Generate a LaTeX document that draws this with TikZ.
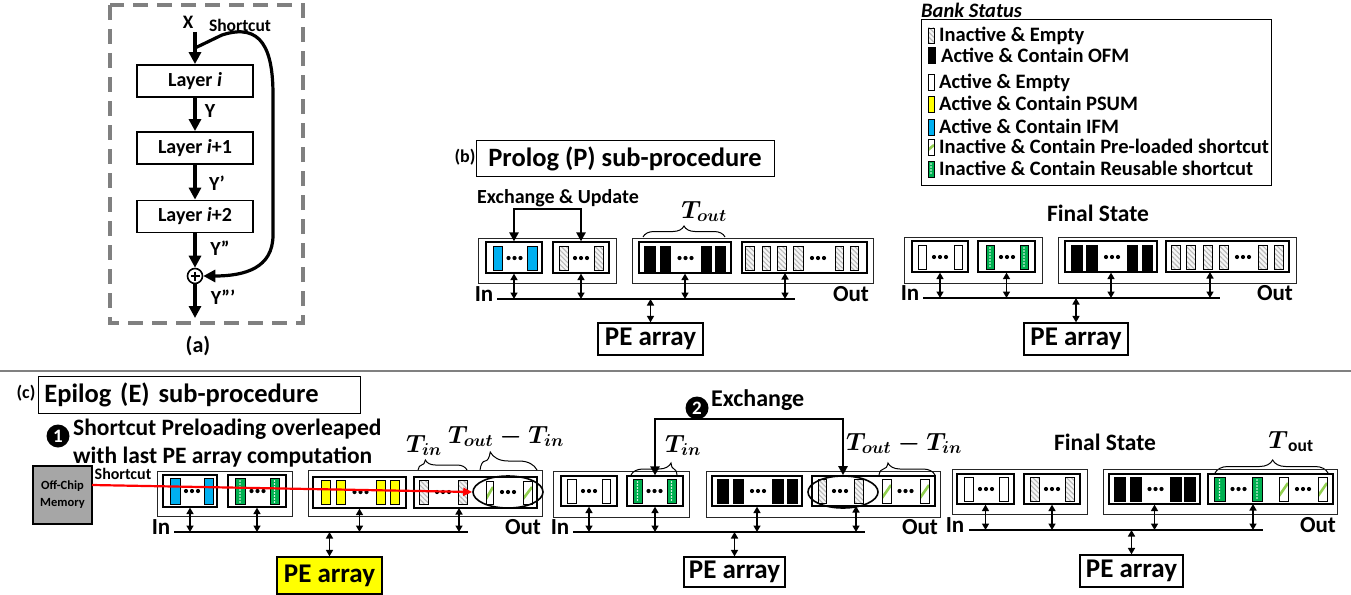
\documentclass[tikz,border=0pt]{standalone}
\usepackage{amsmath}
\usepackage{fontspec}
\setmainfont{Carlito}
\usetikzlibrary{arrows.meta,decorations.pathreplacing,patterns.meta,shapes.geometric}
\newcommand\fz[1]{\fontsize{#1}{#1}\selectfont}
\definecolor{ifm}{RGB}{0,176,240}
\definecolor{psum}{RGB}{255,255,0}
\definecolor{reu}{RGB}{0,176,80}
\definecolor{pre}{RGB}{146,208,80}
\definecolor{mem}{RGB}{166,166,166}
\newcommand\bkfill[5]{\filldraw[fill=#1,draw=black,line width=0.9pt] (#2,#3) rectangle (#4,#5);}
\newcommand\bkhatch[4]{\fill[gray!8] (#1,#2) rectangle (#3,#4);
 \fill[pattern={Lines[angle=-45,distance=3.4pt,line width=1.1pt]},pattern color=gray!55] (#1,#2) rectangle (#3,#4);
 \draw[line width=0.9pt] (#1,#2) rectangle (#3,#4);}
\newcommand\bkreu[4]{\filldraw[fill=reu,draw=black,line width=0.9pt] (#1,#2) rectangle (#3,#4);
 \pgfmathsetmacro\xm{(#1+#3)/2}\pgfmathsetmacro\ya{#2+3}\pgfmathsetmacro\yb{#2+6}\pgfmathsetmacro\yc{#4-2}
 \foreach \yy in {\ya,\yb,...,\yc}{\fill[white] (\xm,\yy) circle (0.8pt);}}
\newcommand\bkpre[4]{\fill[white] (#1,#2) rectangle (#3,#4);
 \begin{scope}\clip (#1,#2) rectangle (#3,#4);
 \draw[pre,line width=2.6pt] (#1,{#4-5}) -- (#3,{#2+6});
 \end{scope}
 \draw[line width=0.9pt] (#1,#2) rectangle (#3,#4);}
\newcommand\dts[2]{\foreach \dd in {-6,0,6}{\fill ({#1+\dd},#2) circle (2.1pt);}}
\newcommand\ob[4]{\draw[draw=black!85,line width=1pt] (#1,#2) rectangle (#3,#4);}
\newcommand\ib[5]{\node[draw,line width=1.2pt,inner sep=0pt,minimum width={#4-#2},minimum height={#5-#3}] (#1) at ({(#2+#4)/2},{(#3+#5)/2}) {};}
\begin{document}
\begin{tikzpicture}[x=1pt,y=-1pt,font=\bfseries,
 tx/.style={inner sep=0pt,font=\bfseries\fz{#1},text height=0.64*#1pt,text depth=0pt},
 bi/.style={line width=1.5pt,{Triangle[width=7pt,length=6.5pt]}-{Triangle[width=7pt,length=6.5pt]}},
 bus/.style={line width=2.8pt},
 xarr/.style={line width=2.4pt,{Triangle[width=9pt,length=9pt]}-{Triangle[width=9pt,length=9pt]}},
 brc/.style n args={2}{decorate,decoration={brace,amplitude=#1,aspect=#2},line width=1pt},
 pe/.style={draw,line width=1.2pt,inner sep=0pt,font=\bfseries\fz{27}},
 thk/.style={line width=3.2pt,-{Triangle[width=12pt,length=12pt]}},
 layer/.style={draw,line width=1.8pt,minimum width=116pt,minimum height=32pt,inner sep=0pt,font=\bfseries\fz{20}},
 ttl/.style={draw,line width=0.8pt,inner sep=0pt,font=\bfseries\fz{26.5}},
 num/.style={circle,fill=black,text=white,inner sep=0pt,minimum size=23pt,font=\bfseries\fz{19}}]
\useasboundingbox (0,0) rectangle (1351,594);
% ---------------- (a)
\draw[gray,line width=3.5pt,dash pattern=on 15pt off 9pt] (110,5) rectangle (303,323);
\node[tx=19] (xlab) at (188,22) {X};
\coordinate (xin) at (195,32);
\node[layer] (L1) at (195,81) {Layer \textit{i}};
\node[layer] (L2) at (195,148) {Layer \textit{i}+1};
\node[layer] (L3) at (195,216.5) {Layer \textit{i}+2};
\node[draw,circle,line width=1.6pt,minimum size=15pt,inner sep=0pt] (add) at (195,276) {};
\draw[line width=1.2pt] (190.5,276) -- (199.5,276) (195,271.5) -- (195,280.5);
\coordinate (yout) at (195,318);
\coordinate (sc0) at (195,48);
\draw[thk] (xin) -- (L1.north);
\draw[thk] (L1.south) -- (L2.north);
\draw[thk] (L2.south) -- (L3.north);
\draw[thk] (L3.south) -- (add.north);
\draw[thk] (add.south) -- (yout);
\draw[thk] (sc0) -- (222,35) .. controls (262,22) and (273,50) .. (273,95) -- (273,235) .. controls (273,268) and (245,276) .. (add.east);
\node[tx=20] (y1) at (210,111) {Y};
\node[tx=20] (y2) at (217,184) {Y'};
\node[tx=20] (y3) at (220,249) {Y''};
\node[tx=20] (y4) at (223,298) {Y'''};
\node[tx=17.5] (scl) at (240,26) {Shortcut};
\node[tx=22] (la) at (198,345) {(a)};
% separator
\draw[gray,line width=2pt] (0,371) -- (1351,371);
% ---------------- legend
\node[tx=20.5,font=\bfseries\itshape\fz{20.5},anchor=west] (bs) at (921,11) {Bank Status};
\draw[line width=1pt] (921,20) rectangle (1271,185);
\bkhatch{928}{28}{934}{43}
\node[tx=20.5,anchor=west] (g1) at (939,35) {Inactive \& Empty};
\bkfill{black}{928}{47}{935}{63}
\node[tx=20.5,anchor=west] (g2) at (941,56) {Active \& Contain OFM};
\bkfill{white}{928}{74}{934}{90}
\node[tx=20.5,anchor=west] (g3) at (939,82) {Active \& Empty};
\bkfill{psum}{928}{96}{934}{112}
\node[tx=20.5,anchor=west] (g4) at (939,104) {Active \& Contain PSUM};
\bkfill{ifm}{928}{119}{934}{135}
\node[tx=20.5,anchor=west] (g5) at (939,127) {Active \& Contain IFM};
\bkpre{928}{139}{934}{155}
\node[tx=20.5,anchor=west] (g6) at (939,147) {Inactive \& Contain Pre-loaded shortcut};
\bkreu{928}{161}{934}{177}
\node[tx=20.5,anchor=west] (g7) at (939,169) {Inactive \& Contain Reusable shortcut};
% ---------------- (b) prolog
\node[tx=18] (lb) at (465,157) {(b)};
\node[ttl,minimum width=298pt,minimum height=36pt] (tp) at (625,158.5) {Prolog (P) sub-procedure};
\node[tx=20] (exu) at (558,197) {Exchange \& Update};
\ob{478}{238}{616}{283}
\ib{pa1}{486}{242}{542}{273}
\bkfill{ifm}{493}{246}{502}{270}\bkfill{ifm}{527}{246}{537}{270}\dts{514.5}{258}
\ib{pa2}{553}{242}{609}{273}
\bkhatch{559}{246}{568}{270}\bkhatch{594}{246}{603}{270}\dts{581}{258}
\coordinate (ex1) at (547,209);
\draw[xarr] (pa1.north) |- (ex1) -| (pa2.north);
\ob{632}{238}{873}{283}
\ib{pa3}{639}{242}{731}{273}
\bkfill{black}{644}{246}{655}{271}\bkfill{black}{660}{246}{670}{271}\bkfill{black}{701}{246}{711}{271}\bkfill{black}{715}{246}{725}{271}\dts{685.5}{258}
\ib{pa4}{742}{242}{867}{273}
\bkhatch{745}{246}{754}{270}\bkhatch{762}{246}{770}{270}\bkhatch{777}{246}{786}{270}\bkhatch{793}{246}{803}{270}\dts{818}{258}\bkhatch{835}{246}{843}{270}\bkhatch{850}{246}{858}{270}
\draw[brc={11pt}{0.5}] (643,237) -- (725,237);
\node[tx=25] (to1) at (704,210) {$\boldsymbol{T_{out}}$};
\coordinate (ba1) at (497,299); \coordinate (bb1) at (795,299);
\draw[bus] (ba1) -- (bb1);
\draw[bi] (pa1.south) -- (pa1.south |- ba1);
\draw[bi] (pa2.south) -- (pa2.south |- ba1);
\draw[bi] (pa3.south) -- (pa3.south |- ba1);
\coordinate (pa4a) at (785,273);
\draw[bi] (pa4a) -- (pa4a |- ba1);
\node[tx=23] (in1) at (484,294) {In};
\node[tx=23] (out1) at (851,294) {Out};
\node[pe,minimum width=105pt,minimum height=32pt] (pe1) at (650.5,339) {PE array};
\draw[bi] (pe1.north |- ba1) -- (pe1.north);
% prolog final
\node[tx=23.5] (fs1) at (1098,214) {Final State};
\ob{904}{237}{1042}{283}
\ib{pb1}{912}{241}{968}{272}
\bkfill{white}{918}{245}{926}{269}\bkfill{white}{954}{245}{962}{269}\dts{940}{257}
\ib{pb2}{978}{241}{1035}{272}
\bkreu{986}{245}{994}{269}\bkreu{1020}{245}{1028}{269}\dts{1007}{257}
\ob{1058}{237}{1296}{283}
\ib{pb3}{1065}{241}{1157}{272}
\bkfill{black}{1071}{245}{1082}{270}\bkfill{black}{1086}{245}{1097}{270}\bkfill{black}{1127}{245}{1137}{270}\bkfill{black}{1142}{245}{1152}{270}\dts{1112}{257}
\ib{pb4}{1166}{241}{1289}{272}
\bkhatch{1171}{245}{1180}{269}\bkhatch{1186}{245}{1195}{269}\bkhatch{1203}{245}{1212}{269}\bkhatch{1219}{245}{1228}{269}\dts{1243}{257}\bkhatch{1258}{245}{1267}{269}\bkhatch{1274}{245}{1283}{269}
\coordinate (ba2) at (923,298); \coordinate (bb2) at (1220,298);
\draw[bus] (ba2) -- (bb2);
\draw[bi] (pb1.south) -- (pb1.south |- ba2);
\draw[bi] (pb2.south) -- (pb2.south |- ba2);
\draw[bi] (pb3.south) -- (pb3.south |- ba2);
\coordinate (pb4a) at (1210,272);
\draw[bi] (pb4a) -- (pb4a |- ba2);
\node[tx=23] (in2) at (910,293) {In};
\node[tx=23] (out2) at (1275,293) {Out};
\node[pe,minimum width=104pt,minimum height=32pt] (pe2) at (1076,339) {PE array};
\draw[bi] (pe2.north |- ba2) -- (pe2.north);
% ---------------- (c) epilog
\node[tx=18] (lc) at (26,393) {(c)};
\node[ttl,anchor=west,text width=310pt,inner xsep=6pt,minimum height=37pt,align=left] (te) at (38,394.5) {Epilog (E) sub-procedure};
\node[num] (n1) at (58,436) {1};
\node[tx=23.5,anchor=west] (s1) at (73,428) {Shortcut Preloading overleaped};
\node[tx=23.5,anchor=west] (s2) at (73,456) {with last PE array computation};
\node[draw,line width=1.5pt,fill=mem,minimum width=59pt,minimum height=58pt,inner sep=0pt] (mem) at (62.5,495) {};
\node[tx=12.5] (m1) at (62.5,485) {Off-Chip};
\node[tx=12.5] (m2) at (62.5,502) {Memory};
\node[tx=16] (scl2) at (123,474) {Shortcut};
% epilog state 1
\ob{157}{471}{292}{516}
\ib{pc1}{163}{475}{217}{507}
\bkfill{ifm}{170}{478}{180}{504}\bkfill{ifm}{204}{478}{213}{504}\dts{192}{491}
\ib{pc2}{228}{475}{286}{507}
\bkreu{235}{478}{245}{504}\bkreu{270}{478}{279}{504}\dts{257.5}{491}
\ob{308}{470}{542}{516}
\ib{pc3}{313}{477}{406}{508}
\bkfill{psum}{321}{480}{330}{504}\bkfill{psum}{336}{480}{345}{504}\bkfill{psum}{376}{480}{385}{504}\bkfill{psum}{390}{480}{399}{504}\dts{360.5}{492}
\ib{pc4}{414}{477}{537}{508}
\bkhatch{419}{480}{428}{504}\bkhatch{458}{480}{467}{504}\dts{443}{492}
\bkpre{486}{481}{493}{504}\bkpre{523}{481}{532}{504}\dts{508}{492}
\node[draw,ellipse,line width=1.6pt,minimum width=70pt,minimum height=32pt,inner sep=0pt] (el1) at (508,492) {};
\draw[brc={10pt}{0.15}] (418,470) -- (467,470);
\node[tx=25] (ti1) at (424,444) {$\boldsymbol{T_{in}}$};
\draw[brc={18pt}{0.18}] (480,470) -- (537,470);
\node[tx=25] (tot1) at (506,435) {$\boldsymbol{T_{out}-T_{in}}$};
\coordinate (ba3) at (174,532); \coordinate (bb3) at (468,532);
\draw[bus] (ba3) -- (bb3);
\draw[bi] (pc1.south) -- (pc1.south |- ba3);
\draw[bi] (pc2.south) -- (pc2.south |- ba3);
\draw[bi] (pc3.south) -- (pc3.south |- ba3);
\coordinate (pc4a) at (459,508);
\draw[bi] (pc4a) -- (pc4a |- ba3);
\node[tx=23] (in3) at (161,527) {In};
\node[tx=23] (out3) at (523,527) {Out};
\node[pe,fill=psum,minimum width=105pt,minimum height=37pt] (pe3) at (329.5,575.5) {PE array};
\draw[bi] (pe3.north |- ba3) -- (pe3.north);
\coordinate (r0) at (92,485);
\coordinate (r1) at (el1.west);
\draw[red,line width=2.2pt,-{Triangle[width=8pt,length=9pt]}] (r0) -- (r1);
% epilog state 2
\node[num] (n2) at (697,408) {2};
\node[tx=24,anchor=west] (exl) at (711,399) {Exchange};
\ob{553}{471}{689}{517}
\ib{pm1}{561}{476}{617}{506}
\bkfill{white}{567}{479}{576}{503}\bkfill{white}{602}{479}{610}{503}\dts{589}{491}
\ib{pm2}{627}{476}{683}{506}
\bkreu{633}{479}{642}{503}\bkreu{667}{479}{676}{503}\dts{654.5}{491}
\ob{706}{471}{940}{517}
\ib{pm3}{712}{476}{802}{506}
\bkfill{black}{717}{479}{728}{503}\bkfill{black}{733}{479}{743}{503}\bkfill{black}{772}{479}{783}{503}\bkfill{black}{787}{479}{797}{503}\dts{758}{491}
\ib{pm4}{812}{476}{935}{506}
\bkhatch{818}{479}{826}{503}\bkhatch{854}{479}{863}{503}\dts{840}{491}
\bkpre{882}{479}{891}{503}\bkpre{920}{479}{929}{503}\dts{905.5}{491}
\node[draw,ellipse,line width=1.6pt,minimum width=70pt,minimum height=32pt,inner sep=0pt] (el2) at (843,492) {};
\coordinate (ex2) at (750,419);
\draw[xarr] (pm2.north) |- (ex2) -| (el2.north);
\draw[brc={12pt}{0.87}] (631,475) -- (677,475);
\node[tx=25] (ti2) at (683,444) {$\boldsymbol{T_{in}}$};
\draw[brc={12pt}{0.16}] (879,475) -- (935,475);
\node[tx=25] (tot2) at (904,442) {$\boldsymbol{T_{out}-T_{in}}$};
\coordinate (ba4) at (573,532); \coordinate (bb4) at (865,532);
\draw[bus] (ba4) -- (bb4);
\draw[bi] (pm1.south) -- (pm1.south |- ba4);
\draw[bi] (pm2.south) -- (pm2.south |- ba4);
\draw[bi] (pm3.south) -- (pm3.south |- ba4);
\coordinate (pm4a) at (856,506);
\draw[bi] (pm4a) -- (pm4a |- ba4);
\node[tx=23] (in4) at (560,527) {In};
\node[tx=23] (out4) at (920,527) {Out};
\node[pe,minimum width=101pt,minimum height=30pt] (pe4) at (734.5,572) {PE array};
\draw[bi] (pe4.north |- ba4) -- (pe4.north);
% epilog final
\node[tx=23.5] (fs2) at (1105,443) {Final State};
\draw[brc={13pt}{0.51}] (1215,473) -- (1328,473);
\node[tx=25] (to3) at (1291,440) {$\boldsymbol{T}_{\mathbf{out}}$};
\ob{952}{469}{1087}{514}
\ib{pf1}{957}{474}{1014}{504}
\bkfill{white}{964}{477}{973}{501}\bkfill{white}{999}{477}{1008}{501}\dts{986}{489}
\ib{pf2}{1024}{474}{1080}{504}
\bkhatch{1030}{477}{1039}{501}\bkhatch{1065}{477}{1074}{501}\dts{1052}{489}
\ob{1103}{469}{1337}{514}
\ib{pf3}{1109}{474}{1200}{504}
\bkfill{black}{1114}{477}{1125}{501}\bkfill{black}{1130}{477}{1141}{501}\bkfill{black}{1170}{477}{1181}{501}\bkfill{black}{1184}{477}{1195}{501}\dts{1155.5}{489}
\ib{pf4}{1208}{474}{1333}{504}
\bkreu{1214}{477}{1225}{501}\bkreu{1252}{477}{1262}{501}\dts{1238.5}{489}
\bkpre{1279}{477}{1288}{501}\bkpre{1318}{477}{1327}{501}\dts{1303}{489}
\coordinate (ba5) at (969,530); \coordinate (bb5) at (1263,530);
\draw[bus] (ba5) -- (bb5);
\draw[bi] (pf1.south) -- (pf1.south |- ba5);
\draw[bi] (pf2.south) -- (pf2.south |- ba5);
\draw[bi] (pf3.south) -- (pf3.south |- ba5);
\coordinate (pf4a) at (1253,504);
\draw[bi] (pf4a) -- (pf4a |- ba5);
\node[tx=23] (in5) at (955,525) {In};
\node[tx=23] (out5) at (1318,525) {Out};
\node[pe,minimum width=103pt,minimum height=32pt] (pe5) at (1131.5,571) {PE array};
\draw[bi] (pe5.north |- ba5) -- (pe5.north);
\end{tikzpicture}
\end{document}
